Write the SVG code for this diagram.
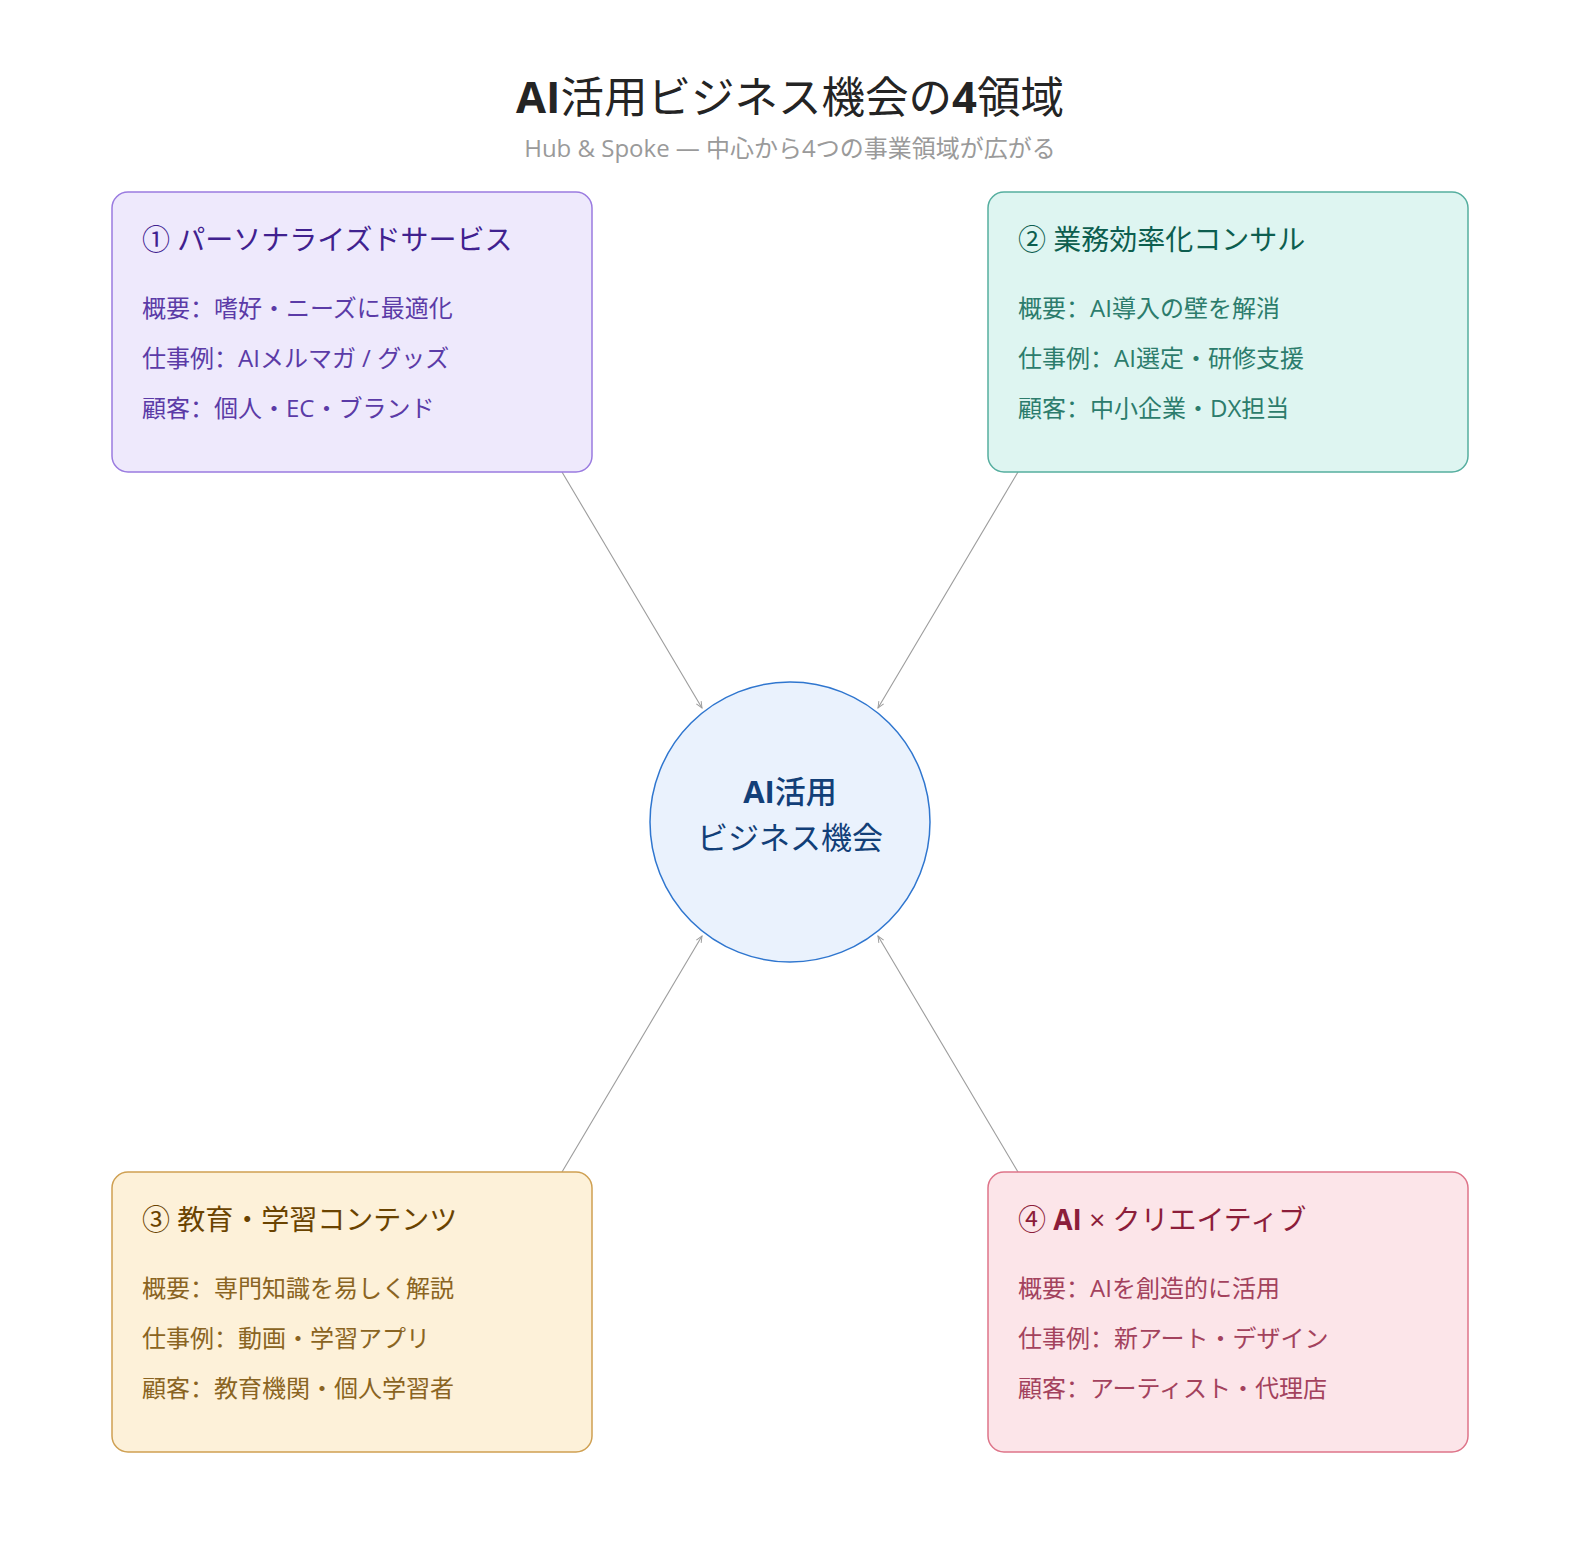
<svg xmlns="http://www.w3.org/2000/svg" width="1580" height="1564" viewBox="0 0 1580 1564">
<defs>
<style>
text{font-family:"Open Sans","Noto Sans CJK JP",sans-serif;}
.title{font-size:43.5px;fill:#242424;}
.sub{font-size:24px;fill:#9a9a9a;}
.b{font-weight:700;}
.c{font-family:"Noto Sans CJK SC","Noto Sans CJK JP",sans-serif;}
.h{font-size:28px;}
.t{font-size:24px;}
.conn{stroke:#9c9c9c;stroke-width:1.1;fill:none;}
.p1{fill:#EEE9FC;stroke:#9A7BE0;stroke-width:1.5;}
.p2{fill:#DEF5F1;stroke:#55AE9F;stroke-width:1.5;}
.p3{fill:#FDF1D9;stroke:#CFA052;stroke-width:1.5;}
.p4{fill:#FCE5E9;stroke:#DE7489;stroke-width:1.5;}
.h1{fill:#40218F;} .t1{fill:#5B3BA7;}
.h2{fill:#0D5E4F;} .t2{fill:#2C7C6C;}
.h3{fill:#6A4300;} .t3{fill:#8A6422;}
.h4{fill:#8C1D3A;} .t4{fill:#A3425D;}
</style>
<marker id="arr" viewBox="0 0 10 10" refX="9" refY="5" markerWidth="8" markerHeight="8" orient="auto" markerUnits="userSpaceOnUse">
<path d="M1,1.5 L9,5 L1,8.5" fill="none" stroke="#9c9c9c" stroke-width="1.2"/>
</marker>
</defs>
<rect width="1580" height="1564" fill="#ffffff"/>
<text class="title" x="790" y="113" text-anchor="middle"><tspan class="b">AI</tspan>活用ビジネス機会の<tspan class="b">4</tspan>領域</text>
<text class="sub" x="790" y="157" text-anchor="middle">Hub &amp; Spoke — 中心から4つの事業領域が広がる</text>
<g id="connectors">
<line class="conn" x1="562" y1="472" x2="702" y2="708" marker-end="url(#arr)"/>
<line class="conn" x1="1018" y1="472" x2="878" y2="708" marker-end="url(#arr)"/>
<line class="conn" x1="562" y1="1172" x2="702" y2="936" marker-end="url(#arr)"/>
<line class="conn" x1="1018" y1="1172" x2="878" y2="936" marker-end="url(#arr)"/>
</g>
<g id="hub">
<circle cx="790" cy="822" r="140" fill="#EAF2FD" stroke="#2F76CF" stroke-width="1.5"/>
<text x="790" y="803" text-anchor="middle" font-size="31" fill="#123F78" font-weight="500"><tspan class="b">AI</tspan>活用</text>
<text x="790" y="849" text-anchor="middle" font-size="31" fill="#123F78">ビジネス機会</text>
</g>
<g id="node1">
<rect class="p1" x="112" y="192" width="480" height="280" rx="16"/>
<text class="h h1" x="142" y="250">① パーソナライズドサービス</text>
<text class="t t1" x="142" y="317">概要<tspan class="c">：</tspan>嗜好・ニーズに最適化</text>
<text class="t t1" x="142" y="367">仕事例<tspan class="c">：</tspan>AIメルマガ / グッズ</text>
<text class="t t1" x="142" y="417">顧客<tspan class="c">：</tspan>個人・EC・ブランド</text>
</g>
<g id="node2">
<rect class="p2" x="988" y="192" width="480" height="280" rx="16"/>
<text class="h h2" x="1018" y="250">② 業務効率化コンサル</text>
<text class="t t2" x="1018" y="317">概要<tspan class="c">：</tspan>AI導入の壁を解消</text>
<text class="t t2" x="1018" y="367">仕事例<tspan class="c">：</tspan>AI選定・研修支援</text>
<text class="t t2" x="1018" y="417">顧客<tspan class="c">：</tspan>中小企業・DX担当</text>
</g>
<g id="node3">
<rect class="p3" x="112" y="1172" width="480" height="280" rx="16"/>
<text class="h h3" x="142" y="1230">③ 教育・学習コンテンツ</text>
<text class="t t3" x="142" y="1297">概要<tspan class="c">：</tspan>専門知識を易しく解説</text>
<text class="t t3" x="142" y="1347">仕事例<tspan class="c">：</tspan>動画・学習アプリ</text>
<text class="t t3" x="142" y="1397">顧客<tspan class="c">：</tspan>教育機関・個人学習者</text>
</g>
<g id="node4">
<rect class="p4" x="988" y="1172" width="480" height="280" rx="16"/>
<text class="h h4" x="1018" y="1230">④ <tspan class="b">AI</tspan> × クリエイティブ</text>
<text class="t t4" x="1018" y="1297">概要<tspan class="c">：</tspan>AIを創造的に活用</text>
<text class="t t4" x="1018" y="1347">仕事例<tspan class="c">：</tspan>新アート・デザイン</text>
<text class="t t4" x="1018" y="1397">顧客<tspan class="c">：</tspan>アーティスト・代理店</text>
</g>
</svg>
